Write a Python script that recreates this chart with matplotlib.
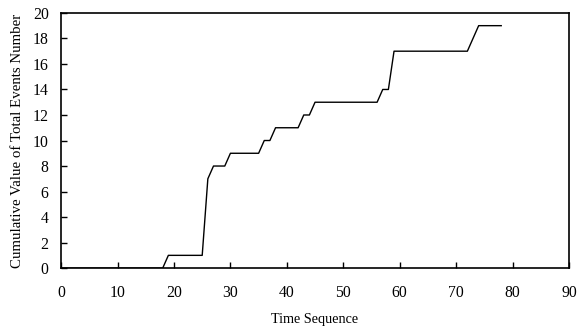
import matplotlib.pyplot as plt
import numpy as np

# time sequence and cumulative number of events
time_seq = np.arange(0, 79)
cum_events = [0, 0, 0, 0, 0, 0, 0, 0, 0, 0,
              0, 0, 0, 0, 0, 0, 0, 0, 0, 1,
              1, 1, 1, 1, 1, 1, 7, 8, 8, 8,
              9, 9, 9, 9, 9, 9, 10, 10, 11, 11,
              11, 11, 11, 12, 12, 13, 13, 13, 13, 13,
              13, 13, 13, 13, 13, 13, 13, 14, 14, 17,
              17, 17, 17, 17, 17, 17, 17, 17, 17, 17,
              17, 17, 17, 18, 19, 19, 19, 19, 19]

x_ticks = list(range(0, 91, 10))
y_ticks = list(range(0, 21, 2))

plt.rcParams['font.family'] = ['Liberation Serif', 'DejaVu Serif']

fig = plt.figure(figsize=(5.77, 3.31), dpi=100)
ax = fig.add_axes([0.106, 0.19, 0.880, 0.771])

ax.plot(time_seq, cum_events, color='black', linewidth=1.0)

ax.set_xlim(0, 90)
ax.set_ylim(0, 20)
ax.set_xticks(x_ticks)
ax.set_yticks(y_ticks)
ax.tick_params(direction='in', length=4, width=1, labelsize=11.3,
               top=False, right=False)
ax.tick_params(axis='x', pad=12)
ax.tick_params(axis='y', pad=9)

for s in ax.spines.values():
    s.set_linewidth(1.2)

ax.set_xlabel('Time Sequence', fontsize=10.2, labelpad=8.5)
ax.set_ylabel('Cumulative Value of Total Events Number', fontsize=10.7, labelpad=6)

fig.savefig('out.png', dpi=100)
